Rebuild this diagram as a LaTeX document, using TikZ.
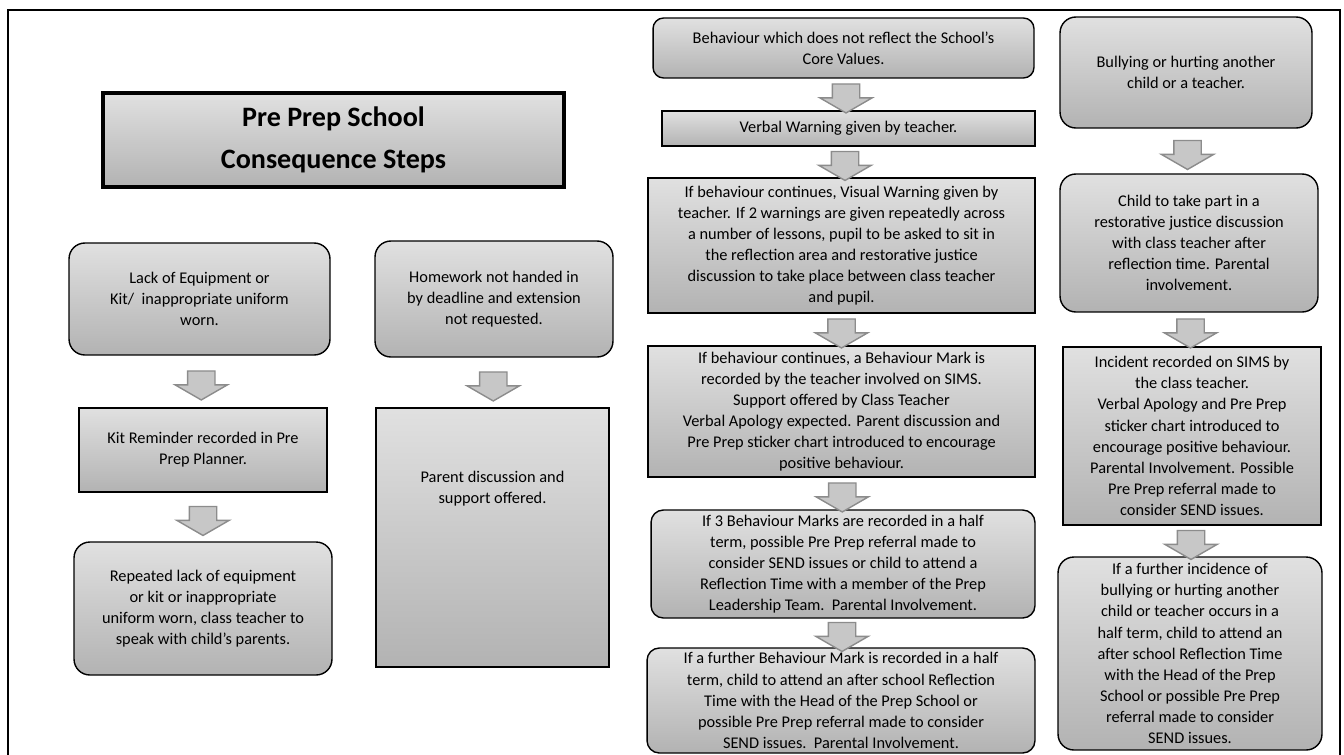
\documentclass[tikz,border=0pt]{standalone}
\usepackage{fontspec}
\setmainfont{Carlito}
\usetikzlibrary{shapes.arrows}

\tikzset{
  stepbox/.style={draw=black, line width=0.8pt, top color=black!12, bottom color=black!30,
    align=center, inner sep=1pt, font=\fontsize{9.3pt}{12pt}\selectfont},
  roundbox/.style={stepbox, rounded corners=9pt},
  titlebox/.style={stepbox, line width=2.2pt, font=\fontsize{16pt}{24pt}\selectfont\bfseries},
  downarrow/.style={single arrow, rotate=-90, draw=black!45, line width=0.8pt, fill=black!22,
    minimum height=0.58cm, minimum width=1.02cm, inner xsep=0pt, inner ysep=0.26cm,
    single arrow head extend=0.25cm, single arrow tip angle=120}
}

\begin{document}
\begin{tikzpicture}[x=0.02cm, y=-0.02cm]
  \clip (0,0) rectangle (1344,754);
  % outer frame
  \draw[line width=1.1pt] (8,10) rectangle (1340,790);

  % title
  \node[titlebox, minimum width=9.22cm, minimum height=1.88cm] (title) at (333.5,140)
    {Pre Prep School\\Consequence Steps};

  % equipment and kit
  \node[roundbox, minimum width=5.22cm, minimum height=2.24cm] (kit1) at (199.5,299)
    {Lack of Equipment or\\Kit/\ \ inappropriate uniform\\worn.};
  \node[stepbox, minimum width=4.96cm, minimum height=1.68cm] (kit2) at (203,450)
    {Kit Reminder recorded in Pre\\Prep Planner.};
  \node[roundbox, minimum width=5.16cm, minimum height=2.66cm] (kit3) at (203,608.5)
    {Repeated lack of equipment\\or kit or inappropriate\\uniform worn, class teacher to\\speak with child’s parents.};

  % homework
  \node[roundbox, minimum width=4.76cm, minimum height=2.32cm] (hw1) at (494,299)
    {Homework not handed in\\by deadline and extension\\not requested.};
  \node[stepbox, minimum width=4.66cm, minimum height=5.18cm] (hw2) at (492.5,537.5)
    {Parent discussion and\\support offered.\\[1.6cm]\mbox{}};

  % behaviour
  \node[roundbox, rounded corners=6pt, minimum width=7.62cm, minimum height=1.2cm] (beh1) at (843.5,48)
    {Behaviour which does not reflect the School’s\\Core Values.};
  \node[stepbox, minimum width=7.46cm, minimum height=0.7cm] (beh2) at (848.5,128.5)
    {Verbal Warning given by teacher.};
  \node[stepbox, minimum width=7.74cm, minimum height=2.7cm] (beh3) at (841.5,245.5)
    {If behaviour continues, Visual Warning given by\\teacher. If 2 warnings are given repeatedly across\\a number of lessons, pupil to be asked to sit in\\the reflection area and restorative justice\\discussion to take place between class teacher\\and pupil.};
  \node[stepbox, minimum width=7.74cm, minimum height=2.62cm] (beh4) at (841.5,411.5)
    {If behaviour continues, a Behaviour Mark is\\recorded by the teacher involved on SIMS.\\Support offered by Class Teacher\\Verbal Apology expected. Parent discussion and\\Pre Prep sticker chart introduced to encourage\\positive behaviour.};
  \node[roundbox, rounded corners=7pt, minimum width=7.68cm, minimum height=2.16cm] (beh5) at (843,564)
    {If 3 Behaviour Marks are recorded in a half\\term, possible Pre Prep referral made to\\consider SEND issues or child to attend a\\Reflection Time with a member of the Prep\\Leadership Team.\ \ Parental Involvement.};
  \node[roundbox, rounded corners=7pt, minimum width=7.76cm, minimum height=2.1cm] (beh6) at (841,700.5)
    {If a further Behaviour Mark is recorded in a half\\term, child to attend an after school Reflection\\Time with the Head of the Prep School or\\possible Pre Prep referral made to consider\\SEND issues.\ \ Parental Involvement.};

  % bullying
  \node[roundbox, minimum width=5.04cm, minimum height=2.22cm] (bul1) at (1186,72.5)
    {Bullying or hurting another\\child or a teacher.};
  \node[roundbox, minimum width=5.16cm, minimum height=2.76cm] (bul2) at (1189,243)
    {Child to take part in a\\restorative justice discussion\\with class teacher after\\reflection time. Parental\\involvement.};
  \node[stepbox, minimum width=5.16cm, minimum height=3.56cm] (bul3) at (1192,436)
    {Incident recorded on SIMS by\\the class teacher.\\Verbal Apology and Pre Prep\\sticker chart introduced to\\encourage positive behaviour.\\Parental Involvement. Possible\\Pre Prep referral made to\\consider SEND issues.};
  \node[roundbox, minimum width=5.28cm, minimum height=3.86cm] (bul4) at (1190,653.5)
    {If a further incidence of\\bullying or hurting another\\child or teacher occurs in a\\half term, child to attend an\\after school Reflection Time\\with the Head of the Prep\\School or possible Pre Prep\\referral made to consider\\SEND issues.};

  % block arrows
  \path (kit1.south) -- node[downarrow] {} (kit2.north);
  \path (kit2.south) -- node[downarrow] {} (kit3.north);
  \path (hw1.south) -- node[downarrow] {} (hw2.north);
  \path (beh1.south) -- node[downarrow] {} (beh2.north);
  \path (beh2.south) -- node[downarrow] {} (beh3.north);
  \path (beh3.south) -- node[downarrow] {} (beh4.north);
  \path (beh4.south) -- node[downarrow] {} (beh5.north);
  \path (beh5.south) -- node[downarrow] {} (beh6.north);
  \path (bul1.south) -- node[downarrow] {} (bul2.north);
  \path (bul2.south) -- node[downarrow] {} (bul3.north);
  \path (bul3.south) -- node[downarrow] {} (bul4.north);
\end{tikzpicture}
\end{document}
